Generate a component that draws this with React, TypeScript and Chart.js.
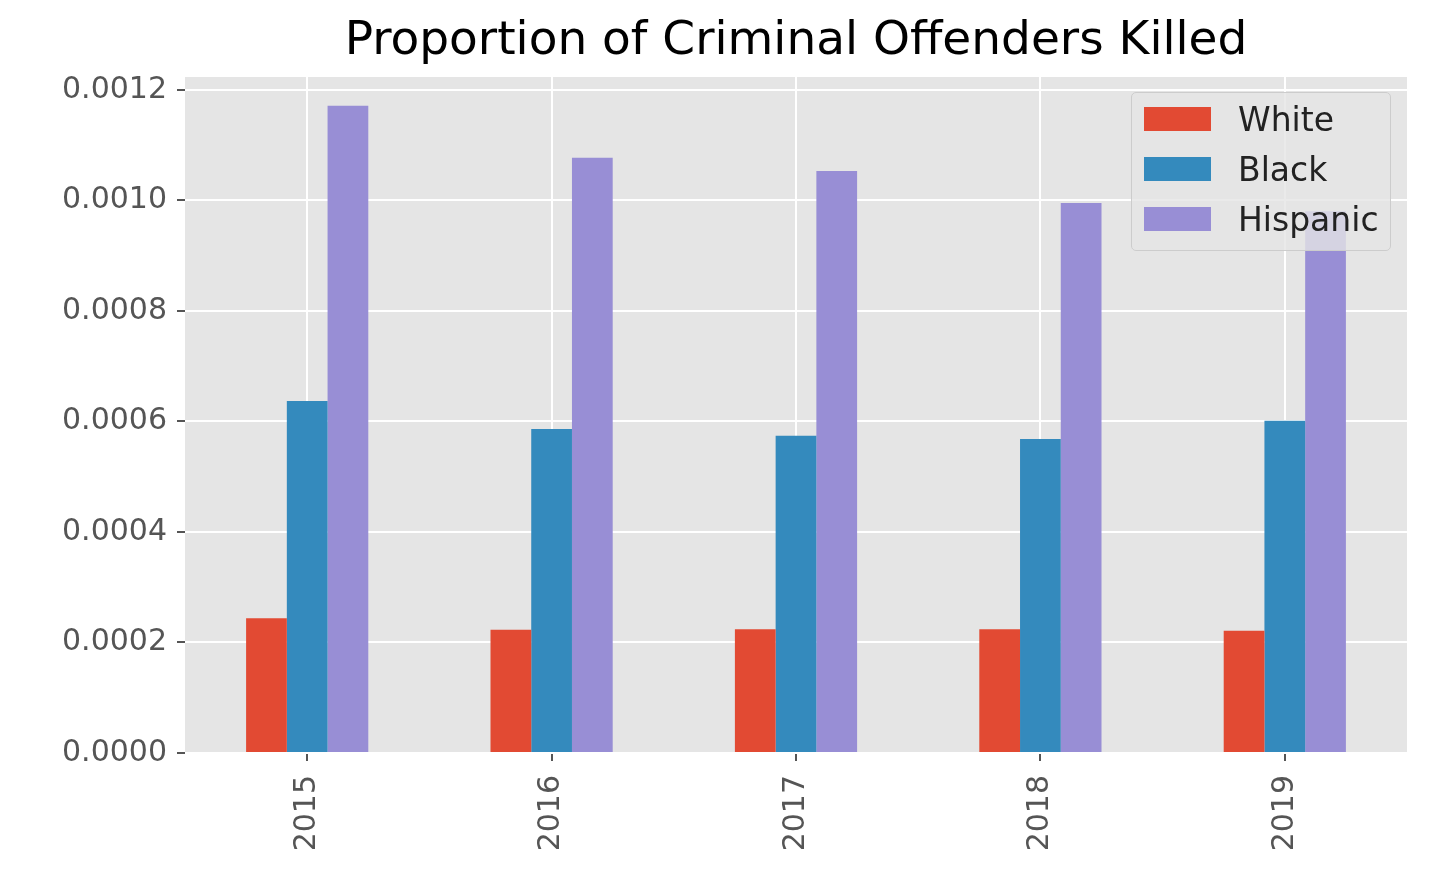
import { useEffect, useRef } from "react";
import { Chart, registerables } from "chart.js";

Chart.register(...registerables);

const years = ["2015", "2016", "2017", "2018", "2019"];
const white = [0.000244, 0.000223, 0.000224, 0.000224, 0.000221];
const black = [0.000637, 0.000586, 0.000574, 0.000568, 0.000601];
const hispanic = [0.001171, 0.001077, 0.001053, 0.000995, 0.00098];
const yTicks = [0, 0.0002, 0.0004, 0.0006, 0.0008, 0.001, 0.0012];

const series = [
  { label: "White", data: white, color: "#e24a33" },
  { label: "Black", data: black, color: "#348abd" },
  { label: "Hispanic", data: hispanic, color: "#988ed5" },
];

const FONT = "'DejaVu Sans', sans-serif";

const plotBg = {
  id: "plotBg",
  beforeDraw(chart: Chart) {
    const { ctx, chartArea: a } = chart;
    ctx.save();
    ctx.fillStyle = "#e5e5e5";
    ctx.fillRect(a.left, a.top, a.right - a.left, a.bottom - a.top);
    ctx.restore();
  },
};

export default function App() {
  const canvasRef = useRef<HTMLCanvasElement>(null);

  useEffect(() => {
    const canvas = canvasRef.current;
    if (!canvas) return;
    const chart = new Chart(canvas, {
      type: "bar",
      data: {
        labels: years,
        datasets: series.map((s) => ({
          label: s.label,
          data: s.data,
          backgroundColor: s.color,
          categoryPercentage: 0.5,
          barPercentage: 1,
        })),
      },
      options: {
        animation: false,
        responsive: false,
        layout: { padding: { top: 77, right: 42, left: 0, bottom: 0 } },
        plugins: { legend: { display: false }, title: { display: false }, tooltip: { enabled: false } },
        scales: {
          x: {
            grid: { color: "#ffffff", lineWidth: 2, tickColor: "#555", tickLength: 8, offset: false },
            border: { display: false },
            ticks: { color: "#555", font: { family: FONT, size: 30 }, minRotation: 90, maxRotation: 90, padding: 14 },
            afterFit: (s: any) => { s.height = 136; },
          },
          y: {
            min: 0,
            max: 0.001223,
            afterBuildTicks: (s: any) => { s.ticks = yTicks.map((v) => ({ value: v })); },
            grid: { color: "#ffffff", lineWidth: 2, tickColor: "#555", tickLength: 8 },
            border: { display: false },
            ticks: {
              color: "#555",
              font: { family: FONT, size: 30 },
              padding: 10,
              callback: (v: any) => Number(v).toFixed(4),
            },
            afterFit: (s: any) => { s.width = 185; },
          },
        },
      },
      plugins: [plotBg],
    });
    return () => chart.destroy();
  }, []);

  return (
    <div style={{ position: "fixed", left: 0, top: 0, width: 1449, height: 889, background: "#fff", fontFamily: FONT }}>
      <canvas ref={canvasRef} width={1449} height={889} />
      <div style={{ position: "absolute", left: 185, width: 1222, top: 10, textAlign: "center", fontSize: 47, color: "#000" }}>
        Proportion of Criminal Offenders Killed
      </div>
      <div
        style={{
          position: "absolute", left: 1131, top: 92, width: 260, height: 159,
          background: "rgba(229,229,229,0.8)", border: "1.5px solid #ccc", borderRadius: 5, boxSizing: "border-box",
        }}
      >
        {series.map((s, i) => (
          <div key={s.label} style={{ position: "absolute", left: 12, top: 11 + i * 50, display: "flex", alignItems: "center", height: 30 }}>
            <div style={{ width: 67, height: 24, background: s.color }} />
            <span style={{ marginLeft: 27, fontSize: 33, color: "#222" }}>{s.label}</span>
          </div>
        ))}
      </div>
    </div>
  );
}
